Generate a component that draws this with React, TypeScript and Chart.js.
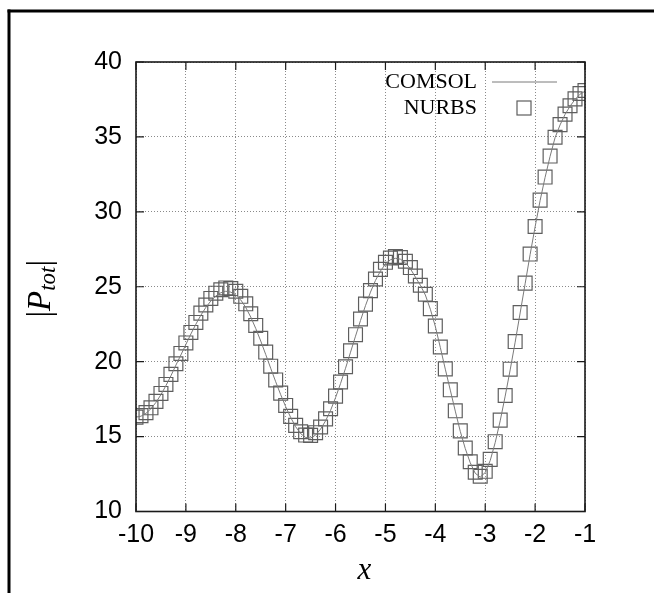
import React, { useEffect, useRef } from "react";
import { Chart, registerables } from "chart.js";

Chart.register(...registerables);

const X_VALUES = [
  -10.0, -9.9, -9.8, -9.7, -9.6, -9.5, -9.4, -9.3, -9.2, -9.1,
  -9.0, -8.9, -8.8, -8.7, -8.6, -8.5, -8.4, -8.3, -8.2, -8.1,
  -8.0, -7.9, -7.8, -7.7, -7.6, -7.5, -7.4, -7.3, -7.2, -7.1,
  -7.0, -6.9, -6.8, -6.7, -6.6, -6.5, -6.4, -6.3, -6.2, -6.1,
  -6.0, -5.9, -5.8, -5.7, -5.6, -5.5, -5.4, -5.3, -5.2, -5.1,
  -5.0, -4.9, -4.8, -4.7, -4.6, -4.5, -4.4, -4.3, -4.2, -4.1,
  -4.0, -3.9, -3.8, -3.7, -3.6, -3.5, -3.4, -3.3, -3.2, -3.1,
  -3.0, -2.9, -2.8, -2.7, -2.6, -2.5, -2.4, -2.3, -2.2, -2.1,
  -2.0, -1.9, -1.8, -1.7, -1.6, -1.5, -1.4, -1.3, -1.2, -1.1,
  -1.0,
];

const COMSOL = [
  16.3, 16.36, 16.55, 16.86, 17.28, 17.8, 18.4, 19.06, 19.77, 20.45,
  21.15, 21.85, 22.5, 23.1, 23.62, 24.05, 24.38, 24.6, 24.7, 24.64,
  24.45, 24.12, 23.62, 22.98, 22.22, 21.38, 20.48, 19.56, 18.66, 17.8,
  17.0, 16.28, 15.66, 15.2, 14.94, 14.9, 15.1, 15.5, 16.05, 16.75,
  17.6, 18.54, 19.56, 20.63, 21.7, 22.75, 23.74, 24.64, 25.42, 26.05,
  26.52, 26.8, 26.9, 26.84, 26.6, 26.2, 25.65, 25.1, 24.45, 23.5,
  22.35, 20.95, 19.5, 18.1, 16.7, 15.35, 14.2, 13.25, 12.55, 12.3,
  12.6, 13.4, 14.6, 16.05, 17.7, 19.45, 21.3, 23.25, 25.2, 27.15,
  29.0, 30.75, 32.3, 33.7, 34.95, 35.8, 36.5, 37.05, 37.5, 37.85,
  38.05,
];

const NURBS = [
  16.3, 16.4, 16.6, 16.92, 17.35, 17.88, 18.48, 19.15, 19.86, 20.55,
  21.25, 21.95, 22.62, 23.24, 23.78, 24.22, 24.57, 24.8, 24.92, 24.88,
  24.7, 24.36, 23.86, 23.2, 22.42, 21.56, 20.64, 19.7, 18.78, 17.9,
  17.08, 16.35, 15.75, 15.32, 15.1, 15.08, 15.26, 15.64, 16.18, 16.86,
  17.7, 18.64, 19.66, 20.73, 21.8, 22.85, 23.84, 24.74, 25.52, 26.16,
  26.63, 26.92, 27.02, 26.95, 26.7, 26.28, 25.72, 25.1, 24.5, 23.54,
  22.38, 20.98, 19.52, 18.12, 16.72, 15.38, 14.24, 13.32, 12.62, 12.35,
  12.68, 13.48, 14.66, 16.1, 17.74, 19.5, 21.34, 23.28, 25.24, 27.18,
  29.02, 30.78, 32.32, 33.72, 34.98, 35.82, 36.52, 37.08, 37.54, 37.9,
  38.1,
];

const X_TICKS = [-10, -9, -8, -7, -6, -5, -4, -3, -2, -1];
const Y_TICKS = [10, 15, 20, 25, 30, 35, 40];
const SERIES_NAMES = ["COMSOL", "NURBS"];

const W = 654;
const H = 593;
const LINE_COLOR = "#7a7a7a";
const SQUARE_COLOR = "#5e5e5e";

const framePlugin = {
  id: "framePlugin",
  beforeDraw(chart: any) {
    const ctx = chart.ctx;
    ctx.save();
    ctx.fillStyle = "#fff";
    ctx.fillRect(0, 0, chart.width, chart.height);
    ctx.fillStyle = "#000";
    ctx.fillRect(7.5, 9.5, chart.width, 3);
    ctx.fillRect(7.5, 9.5, 3, chart.height);
    ctx.restore();
  },
  afterDraw(chart: any) {
    const ctx = chart.ctx;
    const { left, right, top, bottom } = chart.chartArea;
    const xs = chart.scales.x;
    const ys = chart.scales.y;
    ctx.save();
    // box
    ctx.strokeStyle = "#1a1a1a";
    ctx.lineWidth = 1.6;
    ctx.strokeRect(left, top, right - left, bottom - top);
    // inward ticks on all sides
    const tl = 8;
    ctx.lineWidth = 1.2;
    ctx.beginPath();
    X_TICKS.forEach((v) => {
      const px = xs.getPixelForValue(v);
      ctx.moveTo(px, bottom);
      ctx.lineTo(px, bottom - tl);
      ctx.moveTo(px, top);
      ctx.lineTo(px, top + tl);
    });
    Y_TICKS.forEach((v) => {
      const py = ys.getPixelForValue(v);
      ctx.moveTo(left, py);
      ctx.lineTo(left + tl, py);
      ctx.moveTo(right, py);
      ctx.lineTo(right - tl, py);
    });
    ctx.stroke();

    // legend
    const lx = right - 108;
    ctx.fillStyle = "#000";
    ctx.font = "22px 'Liberation Serif', 'Times New Roman', serif";
    ctx.textAlign = "right";
    ctx.textBaseline = "middle";
    ctx.fillText(SERIES_NAMES[0], lx, top + 20);
    ctx.fillText(SERIES_NAMES[1], lx, top + 46);
    ctx.strokeStyle = LINE_COLOR;
    ctx.lineWidth = 1;
    ctx.beginPath();
    ctx.moveTo(lx + 15, top + 20);
    ctx.lineTo(lx + 80, top + 20);
    ctx.stroke();
    ctx.strokeStyle = SQUARE_COLOR;
    ctx.lineWidth = 1.2;
    ctx.strokeRect(lx + 47 - 7, top + 46 - 7, 14, 14);

    // x title
    ctx.fillStyle = "#000";
    ctx.font = "italic 31px 'Liberation Serif', 'Times New Roman', serif";
    ctx.textAlign = "center";
    ctx.textBaseline = "middle";
    ctx.fillText("x", (left + right) / 2 + 4, 571);

    // y title |P_tot|
    ctx.save();
    ctx.translate(41, (top + bottom) / 2 + 2);
    ctx.rotate(-Math.PI / 2);
    const big = "33px 'Liberation Serif', 'Times New Roman', serif";
    const bigI = "italic 33px 'Liberation Serif', 'Times New Roman', serif";
    const smallI = "italic 23px 'Liberation Serif', 'Times New Roman', serif";
    const parts = [
      { t: "|", f: big, dy: 0 },
      { t: "P", f: bigI, dy: 0 },
      { t: "tot", f: smallI, dy: 8 },
      { t: "|", f: big, dy: 0 },
    ];
    let total = 0;
    parts.forEach((p) => {
      ctx.font = p.f;
      total += ctx.measureText(p.t).width;
    });
    let cx = -total / 2;
    ctx.textAlign = "left";
    ctx.textBaseline = "middle";
    parts.forEach((p) => {
      ctx.font = p.f;
      ctx.fillText(p.t, cx, p.dy);
      cx += ctx.measureText(p.t).width;
    });
    ctx.restore();
    ctx.restore();
  },
};

export default function App() {
  const canvasRef = useRef<HTMLCanvasElement | null>(null);

  useEffect(() => {
    const canvas = canvasRef.current;
    if (!canvas) return;
    const tickFont = { family: "'Liberation Sans', Arial, sans-serif", size: 25 };
    const chart = new Chart(canvas, {
      type: "line",
      data: {
        datasets: [
          {
            label: SERIES_NAMES[0],
            data: X_VALUES.map((x, i) => ({ x, y: COMSOL[i] })),
            borderColor: LINE_COLOR,
            borderWidth: 1,
            pointRadius: 0,
            fill: false,
            tension: 0,
            order: 1,
          },
          {
            label: SERIES_NAMES[1],
            data: X_VALUES.map((x, i) => ({ x, y: NURBS[i] })),
            showLine: false,
            pointStyle: "rect",
            pointRadius: 9.8,
            pointBorderWidth: 1.2,
            pointBorderColor: SQUARE_COLOR,
            pointBackgroundColor: "rgba(0,0,0,0)",
            borderColor: SQUARE_COLOR,
            backgroundColor: "rgba(0,0,0,0)",
            order: 2,
          },
        ],
      },
      options: {
        responsive: false,
        animation: false,
        devicePixelRatio: 1,
        layout: { padding: { left: 0, top: 62, right: 69, bottom: 0 } },
        plugins: {
          legend: { display: false },
          tooltip: { enabled: false },
          title: { display: false },
        },
        scales: {
          x: {
            type: "linear",
            min: -10,
            max: -1,
            afterFit: (s: any) => {
              s.height = 81.5;
            },
            afterBuildTicks: (s: any) => {
              s.ticks = X_TICKS.map((v) => ({ value: v }));
            },
            ticks: {
              font: tickFont,
              color: "#000",
              padding: 9,
              maxRotation: 0,
              autoSkip: false,
              callback: (v: any) => String(v),
            },
            grid: { color: "#8a8a8a", lineWidth: 1, drawTicks: false },
            border: { display: false, dash: [1, 2] },
          },
          y: {
            type: "linear",
            min: 10,
            max: 40,
            afterFit: (s: any) => {
              s.width = 136;
            },
            afterBuildTicks: (s: any) => {
              s.ticks = Y_TICKS.map((v) => ({ value: v }));
            },
            ticks: {
              font: tickFont,
              color: "#000",
              padding: 14,
              callback: (v: any) => String(v),
            },
            grid: { color: "#8a8a8a", lineWidth: 1, drawTicks: false },
            border: { display: false, dash: [1, 2] },
          },
        },
      },
      plugins: [framePlugin],
    });
    return () => chart.destroy();
  }, []);

  return (
    <div style={{ position: "absolute", left: 0, top: 0, width: W, height: H }}>
      <canvas ref={canvasRef} width={W} height={H} style={{ display: "block" }} />
    </div>
  );
}
